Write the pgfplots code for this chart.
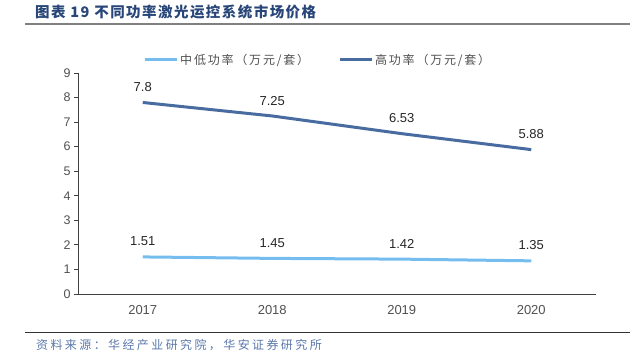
\documentclass[border=0pt]{standalone}
\usepackage{pgfplots}
\pgfplotsset{compat=1.18}
\usepackage{fontspec}
\setmainfont{Liberation Sans}
\newfontfamily\cjk{Noto Sans CJK SC}
\newfontfamily\cjktitle[LetterSpace=10]{Noto Sans CJK SC}
\newfontfamily\cjkwide[LetterSpace=20]{Noto Sans CJK SC}
\newfontfamily\cjkleg[LetterSpace=15]{Noto Sans CJK SC}
\definecolor{lightb}{RGB}{117,189,238}
\definecolor{darkb}{RGB}{72,107,160}
\definecolor{titleb}{RGB}{40,70,120}
\definecolor{srcb}{RGB}{90,120,170}
\definecolor{tickg}{RGB}{80,80,80}
\begin{document}
\begin{tikzpicture}[x=1pt,y=1pt]
\path[use as bounding box] (0,0) rectangle (638,364);
\node[anchor=west,inner sep=0pt,text=titleb,font=\fontsize{14.5}{16}\selectfont\cjktitle\bfseries] at (35,352) {图表 19 不同功率激光运控系统市场价格};
\draw[color=black!50,line width=1.3pt] (25,340) -- (630,340);
\draw[color=black!80,line width=0.9pt] (25,32) -- (630,32);
\node[anchor=west,inner sep=0pt,text=srcb,font=\fontsize{12}{14}\selectfont\cjkwide] at (36,19) {资料来源：华经产业研究院，华安证券研究所};
\begin{axis}[
  at={(78pt,70pt)}, anchor=south west,
  scale only axis, width=518pt, height=221pt,
  xmin=-0.5, xmax=3.5, ymin=0, ymax=9,
  xtick={0,1,2,3}, xticklabels={2017,2018,2019,2020},
  extra x ticks={-0.5,0.5,1.5,2.5,3.5}, extra x tick labels={},
  extra x tick style={major tick length=4pt, tick style={black!80,line width=0.8pt}},
  ytick={0,1,...,9},
  axis x line*=bottom, axis y line*=left,
  axis line style={black!75,line width=0.8pt},
  x axis line style={-}, y axis line style={-},
  tick align=outside,
  major tick length=4pt,
  tick style={black!75,line width=0.8pt},
  xtick style={draw=none},
  ticklabel style={text=tickg},
  xticklabel style={font=\fontsize{13}{15}\selectfont, yshift=-4pt},
  yticklabel style={font=\fontsize{12.5}{14}\selectfont},
  /pgf/number format/assume math mode=true,
  clip=false,
  legend style={at={(0.1255,1.059)}, anchor=west, draw=none, legend columns=2, inner sep=0pt,
    text=tickg, /tikz/every even column/.append style={column sep=27pt}},
  legend cell align=left,
  legend image code/.code={\draw[#1, line width=3pt] (0,0) -- (32pt,0);},
  nodes near coords,
  every node near coord/.append style={font=\fontsize{13}{15}\selectfont, text=black!85, yshift=6pt},
  point meta=explicit symbolic,
]
\addplot[color=lightb, line width=3pt, mark=none] coordinates {(0,1.51)[1.51] (1,1.45)[1.45] (2,1.42)[1.42] (3,1.35)[1.35]};
\addlegendentry{\fontsize{12}{14}\selectfont\cjkleg 中低功率（万元/套）}
\addplot[color=darkb, line width=3pt, mark=none] coordinates {(0,7.8)[7.8] (1,7.25)[7.25] (2,6.53)[6.53] (3,5.88)[5.88]};
\addlegendentry{\fontsize{12}{14}\selectfont\cjkleg 高功率（万元/套）}
\end{axis}
\end{tikzpicture}
\end{document}
